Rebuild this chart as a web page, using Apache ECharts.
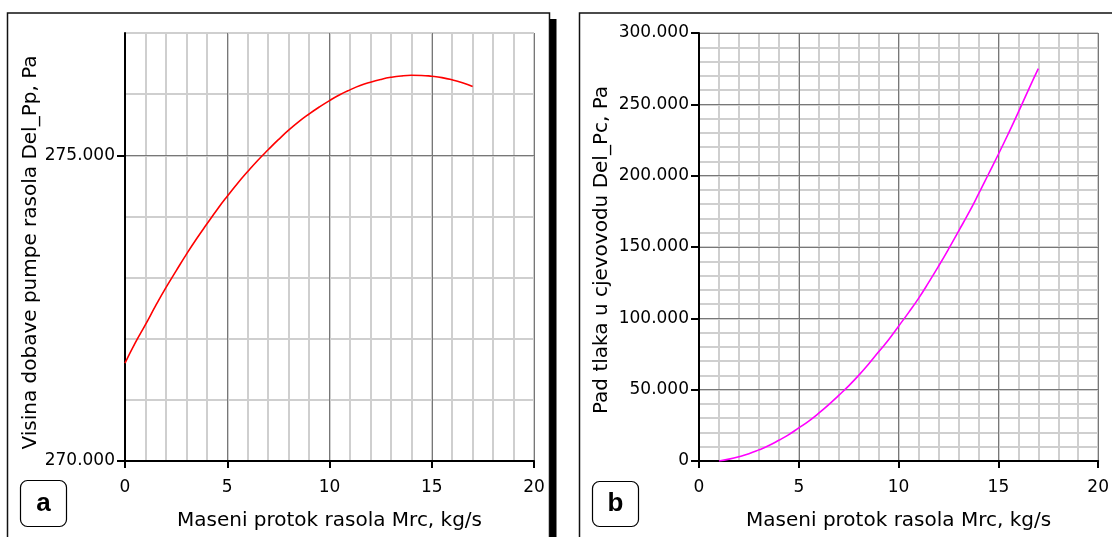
<!DOCTYPE html>
<html>
<head>
<meta charset="utf-8">
<script src="https://cdn.jsdelivr.net/npm/echarts@6/dist/echarts.min.js"></script>
<style>
html,body{margin:0;padding:0;background:#fff;}
#c{width:1112px;height:537px;}
</style>
</head>
<body>
<div id="c"></div>
<script>
// ---- Data ----
const flowA = [0,0.5,1,1.5,2,2.5,3,3.5,4,4.5,5,5.5,6,6.5,7,7.5,8,8.5,9,9.5,10,10.5,11,11.5,12,12.5,13,13.5,14,14.5,15,15.5,16,16.5,17];
const headA = [271600,271930,272230,272540,272835,273110,273380,273635,273875,274110,274330,274540,274735,274920,275090,275255,275410,275550,275675,275790,275895,275990,276070,276140,276195,276240,276275,276298,276308,276306,276292,276270,276234,276186,276125];

const flowB = [1,1.5,2,2.5,3,3.5,4,4.5,5,5.5,6,6.5,7,7.5,8,8.5,9,9.5,10,10.5,11,11.5,12,12.5,13,13.5,14,14.5,15,15.5,16,16.5,17];
const dropB = [0,1300,3000,5100,7800,10800,14500,18500,23200,28000,33500,39500,46000,52700,60000,68000,76500,85000,94500,104000,114000,125000,136500,148500,161000,173500,187000,201000,215000,229500,244500,260000,275000];

const xTicks = [0,5,10,15,20];
const yTicksA = [270000,275000];
const yTicksB = [0,50000,100000,150000,200000,250000,300000];

const xTitle = 'Maseni protok rasola Mrc, kg/s';
const yTitleA = 'Visina dobave pumpe rasola Del_Pp, Pa';
const yTitleB = 'Pad tlaka u cjevovodu Del_Pc, Pa';

// ---- Styles ----
const MAJOR = '#777777', MINOR = '#cfcfcf';
const fmtY = v => v === 0 ? '0' : (v / 1000) + '.000';
const labelFont = {fontFamily: 'DejaVu Sans', fontSize: 17, color: '#000'};
const titleFont = {fontFamily: 'DejaVu Sans', fontSize: 20, color: '#000'};

function xMajor(gi) {
  return {
    type: 'value', gridIndex: gi, min: 0, max: 20, interval: 5, z: 2,
    name: xTitle, nameLocation: 'middle', nameGap: 50, nameTextStyle: titleFont,
    axisLine: {show: true, onZero: false, lineStyle: {color: '#000', width: 2}},
    axisTick: {show: true, length: 7, customValues: xTicks, lineStyle: {color: '#000', width: 2}},
    axisLabel: {show: true, margin: 18, customValues: xTicks, ...labelFont},
    splitLine: {show: true, lineStyle: {color: MAJOR, width: 1}}
  };
}
function xMinor(gi) {
  return {
    type: 'value', gridIndex: gi, min: 0, max: 20, interval: 1, z: 0,
    axisLine: {show: false}, axisTick: {show: false}, axisLabel: {show: false},
    splitLine: {show: true, lineStyle: {color: MINOR, width: 2}}
  };
}
function yMajor(gi, min, max, interval, ticks, title, gap, pad) {
  return {
    type: 'value', gridIndex: gi, min: min, max: max, interval: interval, z: 2,
    name: title, nameLocation: 'middle', nameGap: gap, nameRotate: 90,
    nameTextStyle: Object.assign({padding: pad}, titleFont),
    axisLine: {show: true, onZero: false, lineStyle: {color: '#000', width: 2}},
    axisTick: {show: true, length: 8, customValues: ticks, lineStyle: {color: '#000', width: 2}},
    axisLabel: {show: true, margin: 10, customValues: ticks, formatter: fmtY, ...labelFont},
    splitLine: {show: true, lineStyle: {color: MAJOR, width: 1}}
  };
}
function yMinor(gi, min, max, interval) {
  return {
    type: 'value', gridIndex: gi, min: min, max: max, interval: interval, z: 0,
    axisLine: {show: false}, axisTick: {show: false}, axisLabel: {show: false},
    splitLine: {show: true, lineStyle: {color: MINOR, width: 2}}
  };
}

const chart = echarts.init(document.getElementById('c'), null, {renderer: 'canvas'});
chart.setOption({
  backgroundColor: '#fff',
  animation: false,
  grid: [
    {left: 125, top: 33, width: 409, height: 428, containLabel: false},
    {left: 699, top: 33, width: 405, height: 428, containLabel: false}
  ],
  xAxis: [xMajor(0), xMajor(1), xMinor(0), xMinor(1)],
  yAxis: [
    yMajor(0, 270000, 277000, 5000, yTicksA, yTitleA, 84, [0, 11, 0, 0]),
    yMajor(1, 0, 300000, 50000, yTicksB, yTitleB, 87, [0, 6, 0, 0]),
    yMinor(0, 270000, 277000, 1000),
    yMinor(1, 0, 300000, 10000)
  ],
  series: [
    {type: 'line', xAxisIndex: 0, yAxisIndex: 0, showSymbol: false, smooth: true,
     data: flowA.map((x, i) => [x, headA[i]]),
     lineStyle: {color: '#ff0000', width: 1.6}, z: 5},
    {type: 'line', xAxisIndex: 1, yAxisIndex: 1, showSymbol: false, smooth: true,
     data: flowB.map((x, i) => [x, dropB[i]]),
     lineStyle: {color: '#ff00ff', width: 1.6}, z: 5}
  ],
  graphic: [
    {type: 'rect', shape: {x: 7.5, y: 13, width: 542, height: 560}, style: {fill: 'none', stroke: '#111', lineWidth: 1.5}, z: 100},
    {type: 'rect', shape: {x: 550, y: 19, width: 6.5, height: 560}, style: {fill: '#000'}, z: 100},
    {type: 'rect', shape: {x: 579.5, y: 13, width: 600, height: 560}, style: {fill: 'none', stroke: '#111', lineWidth: 1.5}, z: 100},
    {type: 'rect', shape: {x: 20.5, y: 480.5, width: 46, height: 46, r: 7}, style: {fill: '#fff', stroke: '#000', lineWidth: 1.2}, z: 100},
    {type: 'text', x: 43.5, y: 504, style: {text: 'a', fontFamily: 'Liberation Sans', fontWeight: 'bold', fontSize: 26, fill: '#000', align: 'center', verticalAlign: 'middle'}, z: 101},
    {type: 'rect', shape: {x: 592.5, y: 481.5, width: 46, height: 45, r: 7}, style: {fill: '#fff', stroke: '#000', lineWidth: 1.2}, z: 100},
    {type: 'text', x: 615.5, y: 504, style: {text: 'b', fontFamily: 'Liberation Sans', fontWeight: 'bold', fontSize: 26, fill: '#000', align: 'center', verticalAlign: 'middle'}, z: 101}
  ]
});
</script>
</body>
</html>
